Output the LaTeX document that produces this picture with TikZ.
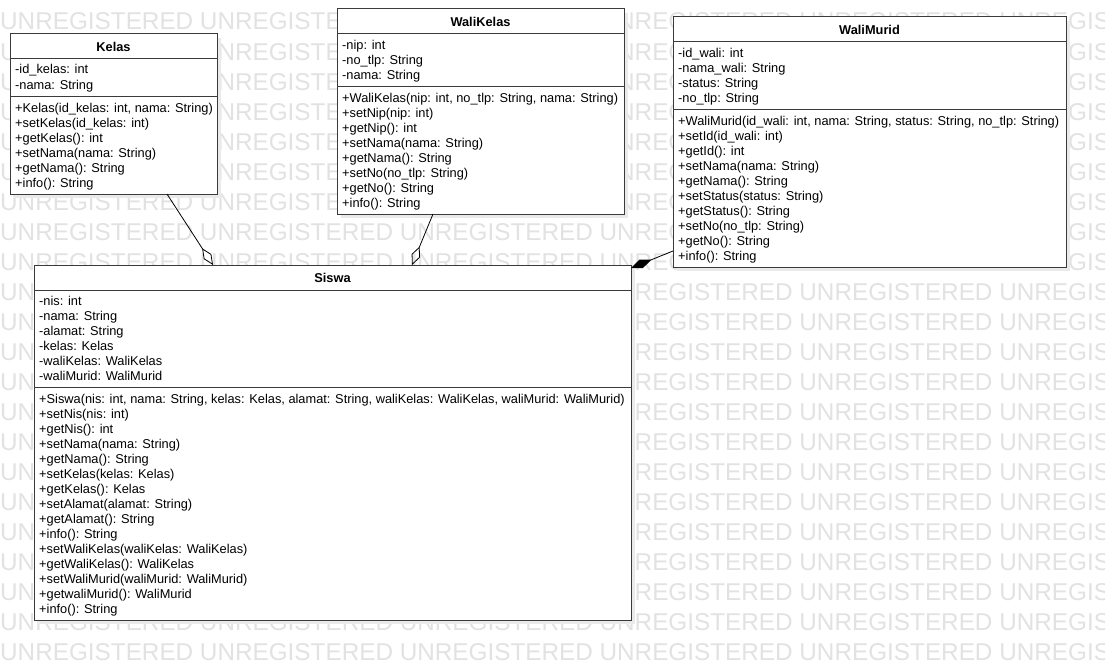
\documentclass[tikz,border=0pt]{standalone}
\usepackage{fontspec}
\setmainfont{Liberation Sans}
\usetikzlibrary{arrows.meta,calc}
\definecolor{wm}{HTML}{E2E2E2}
\definecolor{shadowc}{HTML}{EAEAEA}
\definecolor{linec}{HTML}{3A3A3A}

\newcommand{\umlclass}[9]{%
  \pgfmathsetmacro\ucDiv{#3+32+15*#5}%
  \pgfmathsetmacro\ucBot{\ucDiv+8+15*#6}%
  \fill[shadowc] (#2+4,#3+4) rectangle (#4+4,\ucBot+4);
  \node[classbox, minimum width=#4-#2, minimum height=\ucBot-#3] (#1) at (#2,#3) {};
  \draw[compline] (#2,#3+25) -- (#4,#3+25);
  \node[ctitle] (#1-title) at ({(#2+#4)/2},#3+13) {#7};
  \foreach \t [count=\i from 0] in {#8} {\node[member] (#1-a\i) at (#2+5,#3+40+15*\i) {\t};}
  \draw[compline] (#2,\ucDiv) -- (#4,\ucDiv);
  \foreach \t [count=\i from 0] in {#9} {\node[member] (#1-m\i) at (#2+5,\ucDiv+16+15*\i) {\t};}
}

\begin{document}
\begin{tikzpicture}[x=1pt,y=-1pt,
  classbox/.style={draw=linec, line width=1pt, fill=white, rectangle, inner sep=0pt, outer sep=0pt, anchor=north west},
  compline/.style={draw=linec, line width=1pt},
  member/.style={anchor=base west, inner sep=0pt, font=\fontsize{12.8}{15}\selectfont},
  ctitle/.style={inner sep=0pt, font=\fontsize{12.8}{15}\selectfont\bfseries},
  wmtext/.style={anchor=base west, inner sep=0pt, text=wm, font=\fontsize{24.3}{28}\selectfont},
  conn/.style={draw=black, line width=0.8pt},
]
\useasboundingbox (0,0) rectangle (1105,661);
\fill[white] (0,0) rectangle (1105,661);

\begin{scope}
\clip (0,0) rectangle (1105,661);
\foreach \k in {0,...,21} {
  \node[wmtext] (wm\k) at (0,30+30*\k) {UNREGISTERED UNREGISTERED UNREGISTERED UNREGISTERED UNREGISTERED UNREGISTERED};
}
\end{scope}

\umlclass{kelas}{10}{34}{217}{2}{6}{Kelas}
  {{-id\_kelas: int},{-nama: String}}
  {{+Kelas(id\_kelas: int, nama: String)},{+setKelas(id\_kelas: int)},{+getKelas(): int},{+setNama(nama: String)},{+getNama(): String},{+info(): String}}

\umlclass{walikelas}{337}{9}{624}{3}{8}{WaliKelas}
  {{-nip: int},{-no\_tlp: String},{-nama: String}}
  {{+WaliKelas(nip: int, no\_tlp: String, nama: String)},{+setNip(nip: int)},{+getNip(): int},{+setNama(nama: String)},{+getNama(): String},{+setNo(no\_tlp: String)},{+getNo(): String},{+info(): String}}

\umlclass{walimurid}{673}{17}{1066}{4}{10}{WaliMurid}
  {{-id\_wali: int},{-nama\_wali: String},{-status: String},{-no\_tlp: String}}
  {{+WaliMurid(id\_wali: int, nama: String, status: String, no\_tlp: String)},{+setId(id\_wali: int)},{+getId(): int},{+setNama(nama: String)},{+getNama(): String},{+setStatus(status: String)},{+getStatus(): String},{+setNo(no\_tlp: String)},{+getNo(): String},{+info(): String}}

\umlclass{siswa}{34}{265}{631}{6}{15}{Siswa}
  {{-nis: int},{-nama: String},{-alamat: String},{-kelas: Kelas},{-waliKelas: WaliKelas},{-waliMurid: WaliMurid}}
  {{+Siswa(nis: int, nama: String, kelas: Kelas, alamat: String, waliKelas: WaliKelas, waliMurid: WaliMurid)},{+setNis(nis: int)},{+getNis(): int},{+setNama(nama: String)},{+getNama(): String},{+setKelas(kelas: Kelas)},{+getKelas(): Kelas},{+setAlamat(alamat: String)},{+getAlamat(): String},{+info(): String},{+setWaliKelas(waliKelas: WaliKelas)},{+getWaliKelas(): WaliKelas},{+setWaliMurid(waliMurid: WaliMurid)},{+getwaliMurid(): WaliMurid},{+info(): String}}

\draw[conn, -{Diamond[open, length=20pt, width=9pt, line width=0.8pt]}]
  ([xshift=157pt]kelas.south west) -- ([xshift=179pt]siswa.north west);
\draw[conn, -{Diamond[open, length=20pt, width=9pt, line width=0.8pt]}]
  ([xshift=96pt]walikelas.south west) -- ([xshift=378pt]siswa.north west);
\draw[conn, -{Diamond[length=22pt, width=9pt]}]
  ([yshift=-234pt]walimurid.north west) -- ([yshift=-3pt]siswa.north east);
\end{tikzpicture}
\end{document}
